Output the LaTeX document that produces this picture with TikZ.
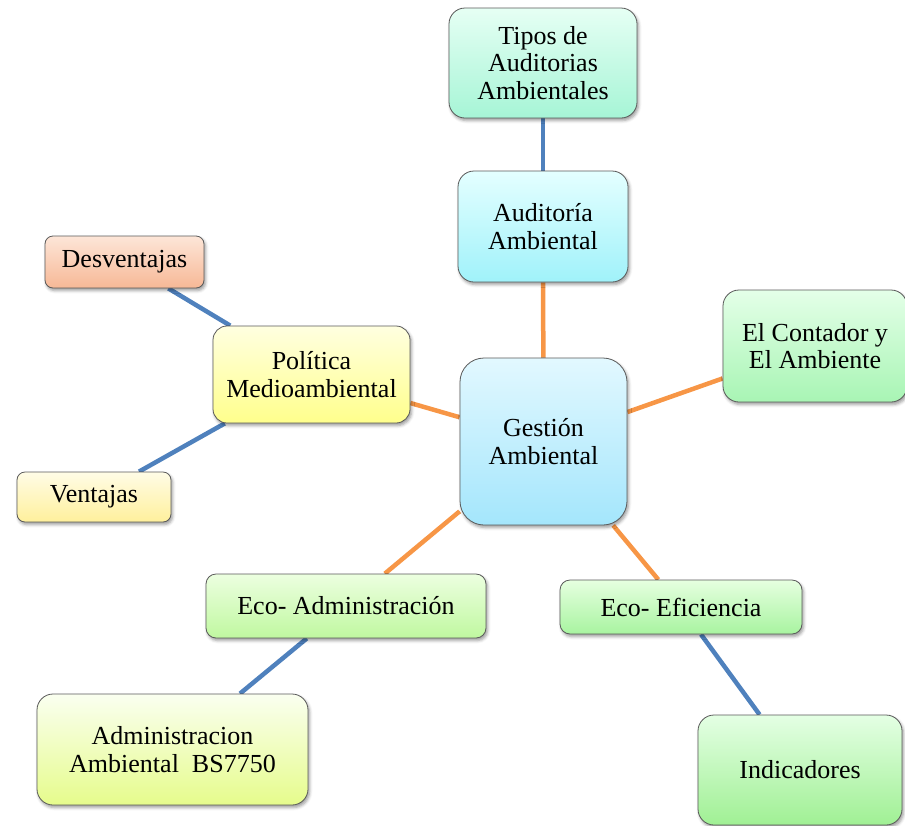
\documentclass[tikz,border=0pt]{standalone}
\usepackage{fontspec}
\setmainfont{Liberation Serif}
\usetikzlibrary{shadows.blur,backgrounds}

\definecolor{linkorange}{HTML}{F79646}
\definecolor{linkblue}{HTML}{4F81BD}
\definecolor{boxedge}{HTML}{5A5A5A}

\tikzset{
  topic/.style={
    draw=boxedge, line width=0.8pt, align=center, inner sep=0pt,
    font=\fontsize{26}{27.5}\selectfont,
    blur shadow={shadow xshift=1.5pt, shadow yshift=-2.5pt,
                 shadow blur radius=3pt, shadow opacity=40}},
  mainlink/.style={draw=linkorange, line width=4.5pt},
  sublink/.style={draw=linkblue, line width=4.5pt},
}

\begin{document}
\begin{tikzpicture}[x=1pt, y=-1pt]
\useasboundingbox (0,0) rectangle (905,825);

% central topic
\node[topic, minimum width=167pt, minimum height=167pt, rounded corners=24pt,
      top color={rgb,255:red,226;green,248;blue,255},
      bottom color={rgb,255:red,164;green,230;blue,252}]
  (gestion) at (543.5,441.5) {Gestión\\Ambiental};

% first ring
\node[topic, minimum width=170pt, minimum height=111pt, rounded corners=16pt,
      top color={rgb,255:red,228;green,255;blue,255},
      bottom color={rgb,255:red,160;green,242;blue,250}]
  (auditoria) at (543,226.5) {Auditoría\\Ambiental};

\node[topic, minimum width=184pt, minimum height=112pt, rounded corners=16pt,
      top color={rgb,255:red,228;green,255;blue,232},
      bottom color={rgb,255:red,168;green,245;blue,180}]
  (contador) at (815,346) {El Contador y\\El Ambiente};

\node[topic, minimum width=197pt, minimum height=97pt, rounded corners=14pt,
      top color={rgb,255:red,255;green,255;blue,224},
      bottom color={rgb,255:red,255;green,255;blue,140}]
  (politica) at (311.5,374.5) {Política\\Medioambiental};

\node[topic, minimum width=280pt, minimum height=64pt, rounded corners=10pt,
      top color={rgb,255:red,236;green,255;blue,224},
      bottom color={rgb,255:red,192;green,248;blue,160}]
  (ecoadmin) at (346,606) {Eco- Administración};

\node[topic, minimum width=242pt, minimum height=54pt, rounded corners=10pt,
      top color={rgb,255:red,230;green,255;blue,224},
      bottom color={rgb,255:red,168;green,244;blue,160}]
  (ecoef) at (681,607) {Eco- Eficiencia};

% second ring
\node[topic, minimum width=188pt, minimum height=110pt, rounded corners=16pt,
      top color={rgb,255:red,230;green,255;blue,244},
      bottom color={rgb,255:red,166;green,245;blue,214}]
  (tipos) at (543,63) {Tipos de\\Auditorias\\Ambientales};

\node[topic, minimum width=159pt, minimum height=52pt, rounded corners=8pt,
      top color={rgb,255:red,253;green,230;blue,216},
      bottom color={rgb,255:red,247;green,184;blue,150}]
  (desventajas) at (124.5,262) {Desventajas};

\node[topic, minimum width=154pt, minimum height=50pt, rounded corners=8pt,
      top color={rgb,255:red,255;green,252;blue,230},
      bottom color={rgb,255:red,255;green,240;blue,156}]
  (ventajas) at (94,497) {Ventajas};

\node[topic, minimum width=271pt, minimum height=111pt, rounded corners=16pt,
      top color={rgb,255:red,250;green,255;blue,240},
      bottom color={rgb,255:red,230;green,252;blue,140}]
  (adminbs) at (172.5,749.5) {Administracion\\Ambiental\ \ BS7750};

\node[topic, minimum width=204pt, minimum height=110pt, rounded corners=16pt,
      top color={rgb,255:red,228;green,255;blue,228},
      bottom color={rgb,255:red,160;green,240;blue,148}]
  (indicadores) at (800,770) {Indicadores};

% connectors
\begin{scope}[on background layer]
  \draw[mainlink] (gestion) -- (auditoria);
  \draw[mainlink] (gestion) -- (contador);
  \draw[mainlink] (gestion) -- (politica);
  \draw[mainlink] (gestion) -- (ecoadmin);
  \draw[mainlink] (gestion) -- (ecoef);
  \draw[sublink] (auditoria) -- (tipos);
  \draw[sublink] (politica) -- (desventajas);
  \draw[sublink] (politica) -- (ventajas);
  \draw[sublink] (ecoadmin) -- (adminbs);
  \draw[sublink] (ecoef) -- (indicadores);
\end{scope}
\end{tikzpicture}
\end{document}
